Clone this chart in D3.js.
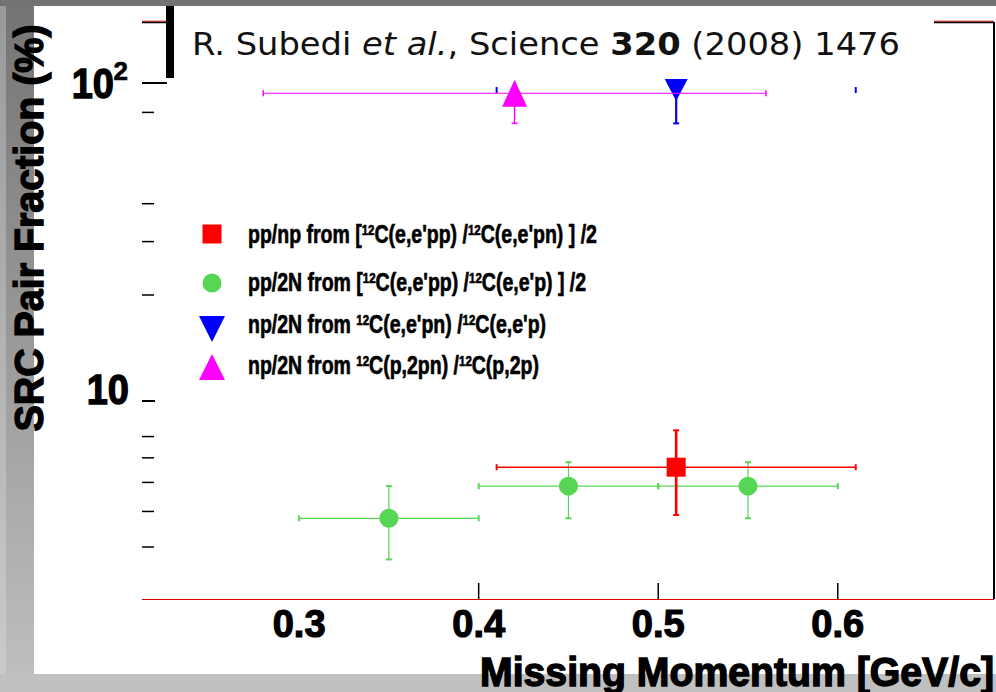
<!DOCTYPE html>
<html><head><meta charset="utf-8">
<script src="https://cdn.jsdelivr.net/npm/d3@7"></script>
<style>html,body{margin:0;padding:0;background:#fff;} svg{display:block;}</style>
</head><body>
<svg id="chart" width="996" height="692"></svg>
<script>
// ---------------- data ----------------
const ppnpX = [0.51], ppnpY = [6.60], ppnpXErr = [0.10], ppnpYLow = [4.89], ppnpYHigh = [8.32];
const pp2NX = [0.35, 0.45, 0.55], pp2NY = [4.79, 5.86, 5.86], pp2NXErr = [0.05, 0.05, 0.05];
const pp2NYLow = [3.70, 4.79, 4.79], pp2NYHigh = [5.86, 6.81, 6.81];
const np2NeX = [0.51], np2NeY = [94.8], np2NeXErr = [0.10], np2NeYLow = [73.6], np2NeYHigh = [94.8];
const np2NpX = [0.42], np2NpY = [92.5], np2NpXErr = [0.14], np2NpYLow = [73.6], np2NpYHigh = [92.5];

const xTickValues = [0.4, 0.5, 0.6];
const xLabelValues = [0.3, 0.4, 0.5, 0.6];
const xLabelTexts = ["0.3", "0.4", "0.5", "0.6"];
const yMajorTicks = [10, 100];
const yMinorTicks = [4, 5, 6, 7, 8, 20, 30, 40, 80];

const legendLabels = [
  [["pp/np from [", 0], ["12", 1], ["C(e,e'pp) /", 0], ["12", 1], ["C(e,e'pn) ] /2", 0]],
  [["pp/2N from [", 0], ["12", 1], ["C(e,e'pp) /", 0], ["12", 1], ["C(e,e'p) ] /2", 0]],
  [["np/2N from ", 0], ["12", 1], ["C(e,e'pn) /", 0], ["12", 1], ["C(e,e'p)", 0]],
  [["np/2N from ", 0], ["12", 1], ["C(p,2pn) /", 0], ["12", 1], ["C(p,2p)", 0]]
];
const titleParts = [["R. Subedi ", "normal", "normal"], ["et al.", "italic", "normal"], [", Science ", "normal", "normal"], ["320", "normal", "bold"], [" (2008) 1476", "normal", "normal"]];
const xTitle = "Missing Momentum [GeV/c]";
const yTitle = "SRC Pair Fraction (%)";

// ---------------- layout ----------------
const W = 996, H = 692;
const plotLeft = 142, plotRight = 994, plotTop = 22, plotBottom = 599;
const FONT = "Liberation Sans, Arial, sans-serif";
const svg = d3.select("#chart");
const defs = svg.append("defs");
const g1 = defs.append("linearGradient").attr("id", "gl").attr("x1", 0).attr("y1", 0).attr("x2", 0).attr("y2", 1);
g1.append("stop").attr("offset", "0%").attr("stop-color", "#747474");
g1.append("stop").attr("offset", "100%").attr("stop-color", "#bebebe");
const g2 = defs.append("linearGradient").attr("id", "gl2").attr("x1", 0).attr("y1", 0).attr("x2", 0).attr("y2", 1);
g2.append("stop").attr("offset", "0%").attr("stop-color", "#999");
g2.append("stop").attr("offset", "100%").attr("stop-color", "#cacaca");

// background frame
svg.append("rect").attr("x", 0).attr("y", 0).attr("width", W).attr("height", H).attr("fill", "#c0c0c0");
svg.append("rect").attr("x", 0).attr("y", 0).attr("width", 6).attr("height", 674).attr("fill", "url(#gl2)");
svg.append("rect").attr("x", 6).attr("y", 0).attr("width", 28).attr("height", 674).attr("fill", "url(#gl)");
svg.append("rect").attr("x", 0).attr("y", 0).attr("width", W).attr("height", 6).attr("fill", "#737373");
svg.append("rect").attr("x", 34).attr("y", 6).attr("width", W - 34).attr("height", 668).attr("fill", "#fff");

const x = d3.scaleLinear().domain([0.2125, 0.687]).range([plotLeft, plotRight]);
const y = d3.scaleLog().domain([4, 10, 20, 100]).range([547, 401, 295, 83]);

// frame
svg.append("line").attr("x1", plotLeft).attr("x2", plotRight).attr("y1", plotTop + 0.5).attr("y2", plotTop + 0.5).attr("stroke", "#000").attr("stroke-width", 1.5);
svg.append("line").attr("x1", plotLeft).attr("x2", plotRight).attr("y1", plotTop - 0.8).attr("y2", plotTop - 0.8).attr("stroke", "#b00000").attr("stroke-width", 1);
svg.append("line").attr("x1", plotRight).attr("x2", plotRight).attr("y1", plotTop).attr("y2", plotBottom).attr("stroke", "#000").attr("stroke-width", 2);
svg.append("line").attr("x1", plotLeft).attr("x2", plotRight).attr("y1", plotBottom + 0.5).attr("y2", plotBottom + 0.5).attr("stroke", "#d40000").attr("stroke-width", 1.2);

// x ticks
svg.selectAll(".xt").data(xTickValues).enter().append("line")
  .attr("x1", d => x(d)).attr("x2", d => x(d)).attr("y1", plotBottom).attr("y2", plotBottom - 16)
  .attr("stroke", "#000").attr("stroke-width", 1.5);
svg.selectAll(".xl").data(xLabelValues).enter().append("text")
  .attr("x", d => x(d)).attr("y", 637).attr("text-anchor", "middle")
  .attr("font-family", FONT).attr("font-weight", "bold").attr("font-size", 38)
  .attr("stroke", "#000").attr("stroke-width", 1.2)
  .text((d, i) => xLabelTexts[i]);

// y ticks
svg.selectAll(".ymn").data(yMinorTicks).enter().append("line")
  .attr("x1", plotLeft).attr("x2", plotLeft + 12).attr("y1", d => y(d)).attr("y2", d => y(d))
  .attr("stroke", "#000").attr("stroke-width", 1.5);
const majorLen = [13, 25];
svg.selectAll(".ymj").data(yMajorTicks).enter().append("line")
  .attr("x1", plotLeft).attr("x2", (d, i) => plotLeft + majorLen[i]).attr("y1", d => y(d)).attr("y2", d => y(d))
  .attr("stroke", "#000").attr("stroke-width", 2);
const majorDy = [3, 15];
yMajorTicks.forEach((v, i) => {
  const by = y(v) + majorDy[i];
  const exp = Math.round(Math.log10(v));
  svg.append("text").attr("x", exp === 1 ? 129 : 114).attr("y", by).attr("text-anchor", "end")
    .attr("font-family", FONT).attr("font-weight", "bold").attr("font-size", 38)
    .attr("stroke", "#000").attr("stroke-width", 1.2)
    .attr("transform", `translate(0,${by * -0.1}) scale(1,1.1)`)
    .text("10");
  if (exp !== 1) {
    svg.append("text").attr("x", 128).attr("y", by - 18).attr("text-anchor", "end")
      .attr("font-family", FONT).attr("font-weight", "bold").attr("font-size", 26)
      .attr("stroke", "#000").attr("stroke-width", 0.6)
      .text(String(exp));
  }
});

// axis titles
svg.append("text").attr("x", 994).attr("y", 686).attr("text-anchor", "end")
  .attr("font-family", FONT).attr("font-weight", "bold").attr("font-size", 40)
  .attr("stroke", "#000").attr("stroke-width", 1.4)
  .attr("textLength", 514).attr("lengthAdjust", "spacingAndGlyphs").text(xTitle);
svg.append("text").attr("transform", "translate(42.5,228) rotate(-90)").attr("text-anchor", "middle")
  .attr("font-family", FONT).attr("font-weight", "bold").attr("font-size", 41)
  .attr("stroke", "#000").attr("stroke-width", 1.4)
  .attr("textLength", 407).attr("lengthAdjust", "spacingAndGlyphs").text(yTitle);

// citation box
svg.append("rect").attr("x", 166).attr("y", 6).attr("width", 768).attr("height", 72).attr("fill", "#fff");
svg.append("rect").attr("x", 166).attr("y", 6).attr("width", 8).attr("height", 72).attr("fill", "#000");
const tt = svg.append("text").attr("x", 192).attr("y", 55)
  .attr("font-family", "DejaVu Sans, Verdana, sans-serif").attr("font-size", 32).attr("fill", "#111")
  .attr("textLength", 708).attr("lengthAdjust", "spacingAndGlyphs");
titleParts.forEach(p => tt.append("tspan").attr("font-style", p[1]).attr("font-weight", p[2]).text(p[0]));

// ---------------- markers ----------------
const tri = (w, h, up) => up ? `M0,${-h / 2}L${w / 2},${h / 2}L${-w / 2},${h / 2}Z` : `M${-w / 2},${-h / 2}L${w / 2},${-h / 2}L0,${h / 2}Z`;

function drawSeries(X, Y, XE, YL, YH, color, opt) {
  const gg = svg.append("g");
  X.forEach((xv, i) => {
    const cx = x(xv), cy = y(Y[i]);
    const xl = x(xv - XE[i]), xr = x(xv + XE[i]);
    if (opt.hLine) gg.append("line").attr("x1", xl).attr("x2", xr).attr("y1", cy).attr("y2", cy).attr("stroke", color).attr("stroke-width", opt.hw);
    [xl, xr].forEach(ex => gg.append("line").attr("x1", ex).attr("x2", ex).attr("y1", cy - opt.cap).attr("y2", cy + opt.cap).attr("stroke", color).attr("stroke-width", opt.cw));
    const yl = y(YL[i]), yh = y(YH[i]);
    gg.append("line").attr("x1", cx).attr("x2", cx).attr("y1", yh).attr("y2", yl).attr("stroke", color).attr("stroke-width", opt.vw);
    [yl, yh].forEach(ey => { if (Math.abs(ey - cy) > 2) gg.append("line").attr("x1", cx - opt.cap).attr("x2", cx + opt.cap).attr("y1", ey).attr("y2", ey).attr("stroke", color).attr("stroke-width", opt.cw); });
    opt.marker(gg, cx, cy);
  });
}
const mSquare = (g, cx, cy, s = 19) => g.append("rect").attr("x", cx - s / 2).attr("y", cy - s / 2).attr("width", s).attr("height", s).attr("fill", "#ff0000");
const mCircle = (g, cx, cy, r = 9.5) => g.append("circle").attr("cx", cx).attr("cy", cy).attr("r", r).attr("fill", "#57d655");
const mDown = (g, cx, cy, w = 23, h = 22) => g.append("path").attr("d", tri(w, h, false)).attr("transform", `translate(${cx},${cy})`).attr("fill", "#0000ff");
const mUp = (g, cx, cy, w = 25, h = 27) => g.append("path").attr("d", tri(w, h, true)).attr("transform", `translate(${cx},${cy})`).attr("fill", "#ff00ff");

drawSeries(pp2NX, pp2NY, pp2NXErr, pp2NYLow, pp2NYHigh, "#57d655", { hLine: true, hw: 1.2, vw: 1.2, cw: 2, cap: 3, marker: (g, a, b) => mCircle(g, a, b) });
drawSeries(ppnpX, ppnpY, ppnpXErr, ppnpYLow, ppnpYHigh, "#ff0000", { hLine: true, hw: 1.4, vw: 2.6, cw: 2, cap: 3, marker: (g, a, b) => mSquare(g, a, b) });
drawSeries(np2NeX, np2NeY, np2NeXErr, np2NeYLow, np2NeYHigh, "#0000ff", { hLine: false, hw: 1, vw: 2.2, cw: 2, cap: 3, marker: (g, a, b) => mDown(g, a, b) });
drawSeries(np2NpX, np2NpY, np2NpXErr, np2NpYLow, np2NpYHigh, "#ff00ff", { hLine: true, hw: 1.2, vw: 1.4, cw: 1.5, cap: 3, marker: (g, a, b) => mUp(g, a, b) });

// ---------------- legend ----------------
const legMarkers = [(g, a, b) => mSquare(g, a, b, 19), (g, a, b) => mCircle(g, a, b, 9.5), (g, a, b) => mDown(g, a, b, 26, 26), (g, a, b) => mUp(g, a, b, 26, 26)];
const legRowY = [234, 283, 329, 367];
const legBase = [243, 291, 333, 374];
legendLabels.forEach((segs, i) => {
  const lg = svg.append("g");
  legMarkers[i](lg, 212, legRowY[i]);
  const t = lg.append("text").attr("transform", `translate(248,${legBase[i]}) scale(1,1.3)`)
    .attr("font-family", FONT).attr("font-weight", "bold").attr("font-size", 19.5)
    .attr("stroke", "#000").attr("stroke-width", 0.5);
  segs.forEach((s, j) => {
    const prev = j > 0 ? segs[j - 1] : null;
    t.append("tspan")
      .attr("font-size", s[1] ? 11.5 : 19.5)
      .attr("dy", s[1] ? -6 : (prev && prev[1] ? 6 : 0))
      .text(s[0]);
  });
});
</script>
</body></html>
